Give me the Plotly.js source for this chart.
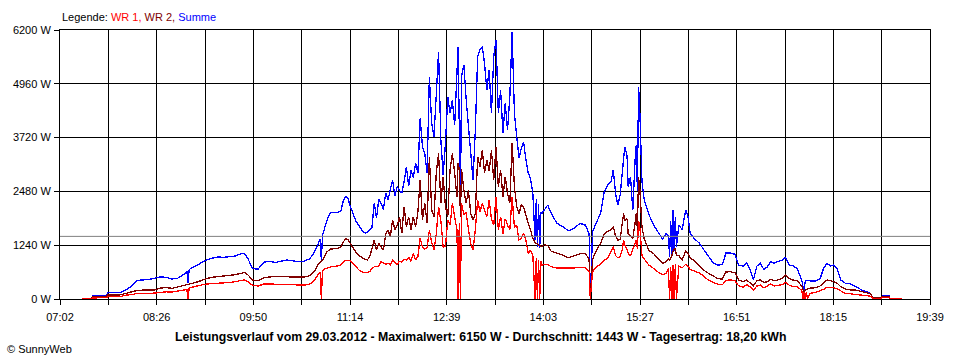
<!DOCTYPE html>
<html>
<head>
<meta charset="utf-8">
<script src="https://cdn.plot.ly/plotly-3.0.1.min.js"></script>
<style>
html,body{margin:0;padding:0;background:#fff;}
#chart{width:960px;height:360px;}
.scatterlayer path.js-line{shape-rendering:crispEdges;}
</style>
</head>
<body>
<div id="chart"></div>
<script>
// Zeitpunkte (HH:MM)
const zeiten = [
"07:22","07:25","07:30","07:31","07:35","07:40","07:43","07:44","07:50","07:55",
"08:00","08:05","08:10","08:15","08:20","08:25","08:30","08:35","08:40","08:45",
"08:50","08:53","08:54","08:55","09:00","09:05","09:10","09:15","09:20","09:25",
"09:30","09:35","09:40","09:43","09:46","09:50","09:55","10:00","10:05","10:10",
"10:15","10:20","10:25","10:30","10:35","10:40","10:44","10:47","10:49","10:50",
"10:51","10:53","10:55","10:58","11:01","11:04","11:07","11:09","11:11","11:13",
"11:15","11:17","11:20","11:23","11:26","11:28","11:30",
"11:32","11:34","11:36","11:38","11:40","11:42","11:44","11:46","11:48","11:50",
"11:52","11:54","11:56","11:58","12:00","12:02","12:04","12:06","12:08","12:10",
"12:12","12:14","12:16","12:18","12:20","12:22","12:24","12:26","12:28","12:30",
"12:32","12:34","12:36","12:38","12:40","12:42","12:44","12:46","12:48","12:49",
"12:50","12:51","12:52","12:54","12:56","12:58","13:00","13:02","13:04","13:06",
"13:08","13:10","13:12","13:14","13:16","13:18","13:20","13:22","13:24","13:26",
"13:28","13:30","13:32","13:34","13:36","13:38","13:40","13:42","13:44","13:46",
"13:48","13:50","13:52","13:54","13:56","13:57","13:58","13:59","14:00","14:01",
"14:02","14:04","14:07","14:10",
"14:15","14:20","14:25","14:30","14:35","14:40","14:43","14:44","14:46","14:50",
"14:53","14:56","14:59","15:02","15:04","15:06","15:08","15:10","15:12","15:13",
"15:14","15:16","15:17","15:19","15:21","15:23","15:24","15:25","15:26","15:27",
"15:29","15:31","15:35","15:39","15:43","15:47","15:50","15:52","15:53","15:54",
"15:55","15:56","15:57","15:58","15:59","16:01","16:04","16:07","16:09","16:11",
"16:15","16:19","16:23","16:27","16:31","16:35","16:39","16:42","16:46","16:50",
"16:53","16:57","17:00","17:03","17:06","17:09","17:12","17:15","17:18","17:21",
"17:24","17:27","17:31","17:34","17:37","17:40","17:44","17:47","17:48","17:49",
"17:50","17:51","17:52","17:53","17:55","18:00","18:04","18:07","18:10","18:13",
"18:16","18:19","18:22","18:26","18:30","18:35","18:40","18:45","18:48","18:50",
"18:57","18:58","19:04","19:05","19:15"
];

// WR 1 (W)
const wr1 = [
5,5,5,25,25,25,30,50,50,55,
90,100,130,130,130,135,150,165,160,180,
200,220,0,250,290,320,345,355,360,370,
380,400,430,440,400,320,300,345,345,340,
345,340,335,320,320,345,430,560,620,0,
660,690,710,740,750,760,790,850,890,880,
880,840,760,660,620,610,610,
630,700,740,745,760,860,820,800,830,790,
900,840,800,870,850,910,900,960,870,1050,
900,975,1400,1200,1150,1180,1590,1300,1130,1500,
2127,1800,1200,1206,1821,1700,2205,1898,1590,0,
1750,0,2205,1950,2000,1600,1283,1130,1600,2282,
2000,2200,2050,1900,2282,1850,1700,2358,1600,1898,
1500,1850,1700,1600,2358,1650,1700,1360,1398,1513,
1350,1053,1130,1014,0,950,0,900,0,870,
783,800,790,745,
714,714,714,714,730,720,630,0,630,760,
800,899,930,1100,1206,1000,950,980,1150,1360,
1250,1150,1050,1000,1150,1300,1360,1150,1800,1700,
1000,920,780,707,620,560,600,700,0,740,
0,780,0,800,0,760,720,800,760,680,
640,600,520,430,380,340,330,430,440,420,
307,270,330,280,207,300,320,260,300,346,
300,320,330,384,320,290,280,220,207,0,
150,0,150,0,130,150,190,223,269,260,
260,230,180,130,120,110,92,75,60,10,
10,40,40,0,0
];

// WR 2 (W)
const wr2 = [
10,10,10,45,50,50,55,90,95,95,
130,160,200,205,210,210,250,265,245,275,
300,320,330,335,375,420,470,500,515,525,
545,560,590,610,560,440,420,490,510,515,
510,515,505,500,505,540,640,800,860,880,
890,1000,1090,1150,1160,1170,1200,1300,1400,1370,
1280,1200,1080,1000,950,910,900,
975,1150,1360,1130,1283,1200,1130,1500,1590,1436,
1821,1600,1700,1898,1513,2127,1667,1898,1590,1898,
1667,2000,2743,1821,2205,1744,3280,2051,1898,2900,
3357,2205,2820,2127,1900,2973,3357,2900,2358,3127,
3000,1898,3000,2512,2205,2500,1975,1821,1975,3280,
3050,3434,2900,3200,2950,3434,2743,3510,2589,2973,
2358,2820,2435,2205,3588,2589,2127,1960,2166,2120,
1898,1744,1590,1400,1300,1280,1250,1245,1230,1210,
1206,1250,1230,1100,
1053,1014,950,991,1040,1050,899,0,920,1150,
1283,1480,1560,1600,1667,1450,1350,1380,1800,1975,
1800,1850,1500,1450,1400,1750,1975,1600,2800,2600,
1650,1380,1120,1050,930,822,860,920,900,950,
1000,1100,1150,1150,1000,1000,900,1100,1050,950,
870,760,660,590,520,470,460,620,630,600,
440,400,440,380,307,420,440,380,400,453,
420,440,470,553,480,440,420,330,300,220,
169,200,220,230,250,260,300,380,438,420,
400,360,280,230,210,207,170,140,120,30,
30,60,60,0,0
];

// Summe (W)
const summe = [
15,15,15,70,70,75,80,145,145,150,
210,300,430,440,450,480,510,500,460,480,
560,640,360,680,760,830,900,940,970,960,
970,990,1040,1050,940,700,690,850,870,840,
870,900,880,860,870,930,1080,1240,1380,900,
1460,1650,1820,2000,2000,1990,2030,2250,2360,2340,
2150,2010,1800,1680,1560,1520,1530,
1600,1640,2213,1866,2300,2200,2059,2443,2290,2500,
2743,2366,2589,2500,2443,2700,3050,2600,2973,2800,
3127,2896,4164,3510,3357,2897,5124,4048,3741,4700,
5700,3664,2858,3588,4663,4279,4586,4000,5278,5816,
4000,2205,5124,5400,4600,3972,3511,2743,3895,5586,
5740,5817,5432,4817,5278,4279,5586,5970,4279,4817,
3818,4509,3895,4663,6150,4279,3741,3243,3473,3626,
3204,2900,2782,2435,1360,2300,1200,2200,1168,2000,
1975,2052,2166,1975,
1744,1667,1575,1628,1744,1700,1500,0,1550,1800,
1975,2450,2620,2700,2973,2435,2166,2400,3000,3204,
3510,3300,2589,2820,2043,3204,3550,2500,4893,4432,
2700,2282,1950,1705,1550,1380,1513,1450,975,1800,
1000,2051,1100,1900,1200,1700,1600,2050,1900,1498,
1383,1283,1130,990,830,783,790,1060,1060,1030,
783,760,837,683,438,760,822,683,740,860,
822,860,899,960,783,770,707,500,438,300,
207,400,430,420,415,415,470,707,822,760,
783,683,438,361,350,290,210,170,130,15,
15,69,69,5,5
];

const xTickLabels = ["07:02","","08:26","","09:50","","11:14","","12:39","","14:03","","15:27","","16:51","","18:15","","19:39"];
const yTickVals = [0,1240,2480,3720,4960,6200];
const durchschnitt = 1443;
const titel = "Leistungsverlauf vom 29.03.2012 - Maximalwert: 6150 W - Durchschnitt: 1443 W - Tagesertrag: 18,20 kWh";

function toMin(s){ const p = s.split(':').map(Number); return p[0]*60 + p[1]; }
const x = zeiten.map(toMin);
const xStart = 422.6, xEnd = 1179.6;
const tickVals = xTickLabels.map((_, i) => xStart + i * (xEnd - xStart) / (xTickLabels.length - 1));

const FONT = 'Arial, "Liberation Sans", sans-serif';

const traces = [
  {x: x, y: summe, type: 'scatter', mode: 'lines', name: 'Summe', line: {color: '#0000FF', width: 1.3}, hoverinfo: 'skip'},
  {x: x, y: wr2, type: 'scatter', mode: 'lines', name: 'WR 2', line: {color: '#800000', width: 1.3}, hoverinfo: 'skip'},
  {x: x, y: wr1, type: 'scatter', mode: 'lines', name: 'WR 1', line: {color: '#FF0000', width: 1.3}, hoverinfo: 'skip'}
];

const axisCommon = {
  showgrid: true, gridcolor: '#000000', gridwidth: 1,
  showline: true, linecolor: '#000000', linewidth: 1, mirror: true,
  ticks: 'outside', ticklen: 5, tickwidth: 1, tickcolor: '#000000',
  zeroline: false, layer: 'below traces', fixedrange: true,
  tickfont: {family: FONT, size: 11, color: '#000000'}
};

const layout = {
  width: 960, height: 360,
  margin: {l: 60, r: 30, t: 30, b: 61, pad: 0},
  paper_bgcolor: '#ffffff', plot_bgcolor: '#ffffff',
  showlegend: false,
  font: {family: FONT, size: 11, color: '#000000'},
  xaxis: Object.assign({}, axisCommon, {
    range: [xStart, xEnd], tickmode: 'array', tickvals: tickVals, ticktext: xTickLabels,
    ticklabelstandoff: 3
  }),
  yaxis: Object.assign({}, axisCommon, {
    range: [0, 6200], tickmode: 'array', tickvals: yTickVals,
    ticktext: yTickVals.map(v => v + ' W'), ticklabelstandoff: 1
  }),
  shapes: [{
    type: 'line', xref: 'paper', x0: 0, x1: 1, yref: 'y', y0: durchschnitt, y1: durchschnitt,
    line: {color: '#808080', width: 1}, layer: 'above'
  }],
  annotations: [
    {
      xref: 'paper', yref: 'paper', x: 0, y: 1.048, xanchor: 'left', yanchor: 'middle', showarrow: false,
      text: 'Legende: <span style="color:#FF0000">WR 1,</span> <span style="color:#800000">WR 2,</span> <span style="color:#0000FF">Summe</span>',
      font: {family: FONT, size: 11, color: '#000000'}
    },
    {
      xref: 'paper', yref: 'paper', x: 0.4828, y: -0.1413, xanchor: 'center', yanchor: 'middle', showarrow: false,
      text: '<b>' + titel + '</b>',
      font: {family: FONT, size: 12.3, color: '#000000'}
    },
    {
      xref: 'paper', yref: 'paper', x: -0.0632, y: -0.1859, xanchor: 'left', yanchor: 'middle', showarrow: false,
      text: '© SunnyWeb',
      font: {family: FONT, size: 11, color: '#000000'}
    }
  ]
};

Plotly.newPlot('chart', traces, layout, {staticPlot: true, displayModeBar: false});
</script>
</body>
</html>
